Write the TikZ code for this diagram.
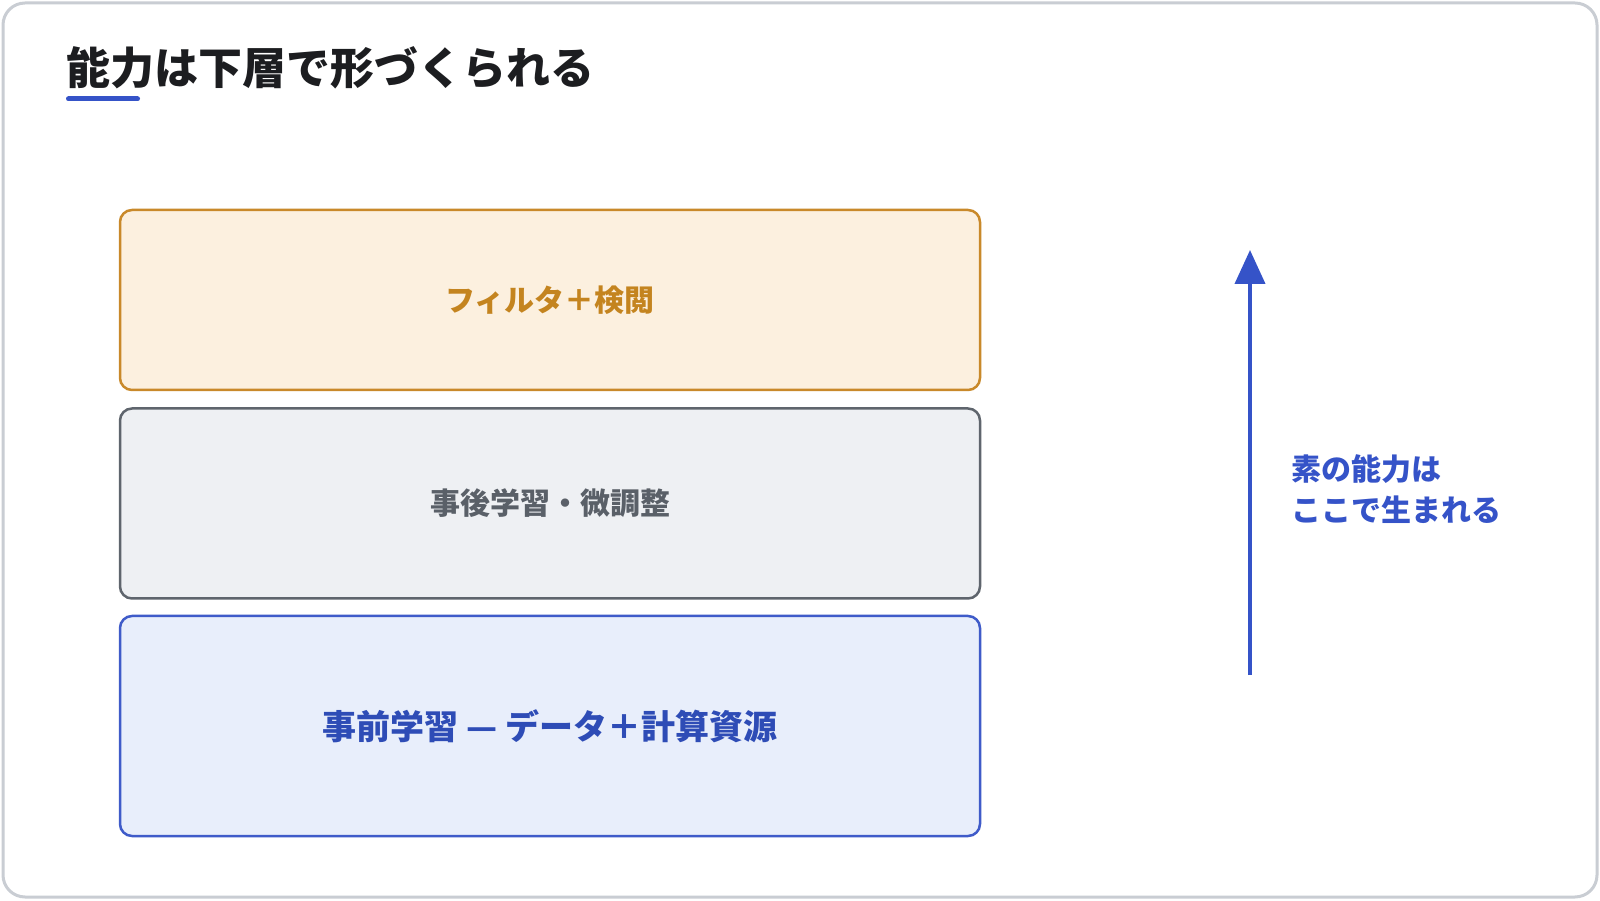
\documentclass[tikz,border=0pt]{standalone}
\usepackage{fontspec}
\newfontfamily\jpfont{Noto Sans CJK JP}
\usetikzlibrary{arrows.meta,positioning}
\definecolor{frameGray}{HTML}{C9CDD3}
\definecolor{titleInk}{HTML}{1C1D20}
\definecolor{accentBlue}{HTML}{3553C8}
\definecolor{filterEdge}{HTML}{C9892A}
\definecolor{filterFill}{HTML}{FCF0DF}
\definecolor{filterInk}{HTML}{C4841F}
\definecolor{postEdge}{HTML}{5F656D}
\definecolor{postFill}{HTML}{EEF0F3}
\definecolor{postInk}{HTML}{5A6068}
\definecolor{preEdge}{HTML}{3F5BC9}
\definecolor{preFill}{HTML}{E8EEFB}
\definecolor{preInk}{HTML}{2E4CB6}
\tikzset{
    layer/.style ={rectangle, draw, rounded corners=12pt, line width=2.5pt,
        minimum width=860pt, inner sep=0pt,
        font=\jpfont\bfseries\fontsize{30}{36}\selectfont},
    frame/.style = {draw=frameGray, fill=white, line width=3pt, rounded corners=22pt},
    rise/.style = {-{Triangle[length=34pt,width=30pt]}, line width=4pt, draw=accentBlue},
    el/.style = {inner sep=0pt, align=left, text=accentBlue,
        font=\jpfont\bfseries\fontsize{30}{41}\selectfont}
}
\begin{document}
\begin{tikzpicture}[x=1pt,y=1pt]
	\useasboundingbox (0,0) rectangle (1600,900);
	\path[frame] (3,3) rectangle (1597,897);
 	\node[anchor=west, inner sep=0pt, text=titleInk, font=\jpfont\bfseries\fontsize{44}{50}\selectfont] (title) at (66,832) {能力は下層で形づくられる};
	\coordinate (ul1) at (68.5,801);
	\coordinate (ul2) at (137.5,801);
	\draw[accentBlue, line width=5pt, line cap=round] (ul1) -- (ul2);
	
 	\node[layer, draw=filterEdge, fill=filterFill, text=filterInk, minimum height=180pt] (filter) at (550,600) {フィルタ＋検閲};
	\node[layer, draw=postEdge, fill=postFill, text=postInk, minimum height=190pt, below=16pt of filter] (post) {事後学習・微調整};
	\node[layer, draw=preEdge, fill=preFill, text=preInk, minimum height=220pt, below=15pt of post, font=\jpfont\bfseries\fontsize{34}{40}\selectfont] (pre) {事前学習 — データ＋計算資源};
	
	\coordinate (base) at (1250,225);
	\coordinate (tip) at (1250,650);
	\draw[rise] (base) -- (tip);
	\node[el, anchor=west] (note) at (1291,411) {素の能力は\\ここで生まれる};
\end{tikzpicture}
\end{document}
